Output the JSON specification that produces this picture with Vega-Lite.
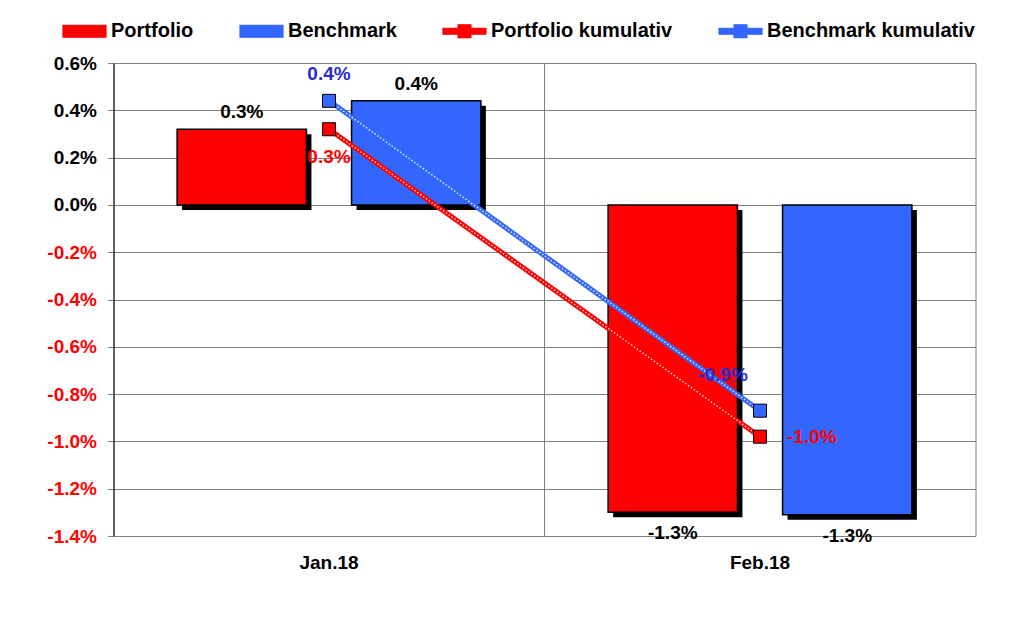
{
  "$schema": "https://vega.github.io/schema/vega-lite/v6.json",
  "width": 862,
  "height": 473,
  "autosize": {"type": "none"},
  "padding": {"left": 113.5, "top": 63, "right": 48.5, "bottom": 85},
  "background": "white",
  "config": {
    "font": "Liberation Sans",
    "locale": {"number": {"decimal": ".", "thousands": ",", "grouping": [3], "currency": ["$", ""], "minus": "-"}},
    "view": {"stroke": "#808080", "strokeWidth": 1},
    "legend": {
      "orient": "none",
      "legendX": -51.5,
      "legendY": -54.5,
      "direction": "horizontal",
      "padding": 0,
      "labelFont": "Liberation Sans",
      "labelFontSize": 20,
      "labelFontWeight": "bold",
      "labelColor": "black",
      "labelLimit": 400,
      "labelOffset": 4,
      "symbolSize": 1849,
      "symbolStrokeColor": "black",
      "symbolStrokeWidth": 1.2,
      "symbolOpacity": 1,
      "columnPadding": 43
    }
  },
  "resolve": {"scale": {"xOffset": "independent"}},
  "datasets": {
    "bars": [
      {"month": "Jan.18", "series": "Portfolio", "value": 0.0032},
      {"month": "Jan.18", "series": "Benchmark", "value": 0.0044},
      {"month": "Feb.18", "series": "Portfolio", "value": -0.0130},
      {"month": "Feb.18", "series": "Benchmark", "value": -0.0131}
    ],
    "cum": [
      {"month": "Jan.18", "series": "Portfolio kumulativ", "value": 0.0032},
      {"month": "Feb.18", "series": "Portfolio kumulativ", "value": -0.0098},
      {"month": "Jan.18", "series": "Benchmark kumulativ", "value": 0.0044},
      {"month": "Feb.18", "series": "Benchmark kumulativ", "value": -0.0087}
    ],
    "sep": [{"month": "Feb.18"}]
  },
  "layer": [
    {
      "data": {"name": "cum"},
      "mark": {"type": "point", "filled": true, "opacity": 0, "stroke": "black", "strokeWidth": 1.2},
      "encoding": {
        "x": {
          "field": "month", "type": "nominal",
          "sort": ["Jan.18", "Feb.18"],
          "scale": {"domain": ["Jan.18", "Feb.18"], "paddingInner": 0, "paddingOuter": 0},
          "axis": {
            "title": null, "domain": false, "ticks": false, "grid": false,
            "labelAngle": 0, "labelFont": "Liberation Sans", "labelFontSize": 19,
            "labelFontWeight": "bold", "labelColor": "black", "labelPadding": 17
          }
        },
        "y": {
          "field": "value", "type": "quantitative",
          "scale": {"domain": [-0.014, 0.006], "nice": false, "zero": false},
          "axis": {
            "title": null,
            "values": [-0.014, -0.012, -0.01, -0.008, -0.006, -0.004, -0.002, 0, 0.002, 0.004, 0.006],
            "format": ".1%",
            "labelFont": "Liberation Sans", "labelFontSize": 19, "labelFontWeight": "bold",
            "labelColor": {"condition": {"test": "datum.value < 0", "value": "#ff0000"}, "value": "black"},
            "tickColor": "#808080", "tickSize": 6, "labelPadding": 11,
            "domainColor": "black", "domainWidth": 1,
            "grid": true, "gridColor": "#808080", "gridWidth": 1
          }
        },
        "color": {
          "field": "series", "type": "nominal",
          "scale": {"domain": ["Portfolio", "Benchmark", "Portfolio kumulativ", "Benchmark kumulativ"], "range": ["#ff0000", "#3366ff", "#ff0000", "#3366ff"]},
          "legend": {"title": null, "encode": {"symbols": {"update": {"stroke": {"value": "black"}, "strokeWidth": {"value": 1.2}, "strokeOpacity": {"value": 1}}}}}
        },
        "shape": {
          "field": "series", "type": "nominal",
          "scale": {
            "domain": ["Portfolio", "Benchmark", "Portfolio kumulativ", "Benchmark kumulativ"],
            "range": [
              "M-1,-0.28H1V0.28H-1Z",
              "M-1,-0.28H1V0.28H-1Z",
              "M-1,-0.14H-0.3V-0.3H0.3V-0.14H1V0.14H0.3V0.3H-0.3V0.14H-1Z",
              "M-1,-0.14H-0.3V-0.3H0.3V-0.14H1V0.14H0.3V0.3H-0.3V0.14H-1Z"
            ]
          },
          "legend": {"title": null, "encode": {"symbols": {"update": {"stroke": {"value": "black"}, "strokeWidth": {"value": 1.2}, "strokeOpacity": {"value": 1}}}}}
        }
      }
    },
    {
      "data": {"name": "sep"},
      "mark": {"type": "rule", "color": "#808080", "strokeWidth": 1},
      "encoding": {
        "x": {"field": "month", "type": "nominal", "bandPosition": 0, "sort": ["Jan.18", "Feb.18"]}
      }
    },
    {
      "data": {"name": "bars"},
      "mark": {"type": "bar", "color": "black", "yOffset": 5, "y2Offset": 5},
      "encoding": {
        "x": {"field": "month", "type": "nominal", "sort": ["Jan.18", "Feb.18"]},
        "xOffset": {"field": "series", "type": "nominal", "scale": {"type": "band", "domain": ["Portfolio", "Benchmark"], "paddingInner": 0.2586, "paddingOuter": 0.3647, "align": 0.5393}},
        "y": {"field": "value", "type": "quantitative"}
      }
    },
    {
      "data": {"name": "bars"},
      "mark": {"type": "bar", "stroke": "black", "strokeWidth": 1.5},
      "encoding": {
        "x": {"field": "month", "type": "nominal", "sort": ["Jan.18", "Feb.18"]},
        "xOffset": {"field": "series", "type": "nominal", "scale": {"type": "band", "domain": ["Portfolio", "Benchmark"], "paddingInner": 0.2586, "paddingOuter": 0.3647}},
        "y": {"field": "value", "type": "quantitative"},
        "color": {"field": "series", "type": "nominal", "legend": {"title": null}}
      }
    },
    {
      "mark": {"type": "rule", "color": "black", "strokeWidth": 3},
      "encoding": {"y": {"datum": 0}}
    },
    {
      "data": {"name": "cum"},
      "mark": {"type": "line", "strokeWidth": 5},
      "encoding": {
        "x": {"field": "month", "type": "nominal", "sort": ["Jan.18", "Feb.18"]},
        "y": {"field": "value", "type": "quantitative"},
        "color": {"field": "series", "type": "nominal", "legend": {"title": null}}
      }
    },
    {
      "data": {"name": "cum"},
      "mark": {"type": "line", "strokeWidth": 1.4, "color": "white", "strokeDash": [1.5, 2], "opacity": 0.9},
      "encoding": {
        "x": {"field": "month", "type": "nominal", "sort": ["Jan.18", "Feb.18"]},
        "y": {"field": "value", "type": "quantitative"},
        "detail": {"field": "series", "type": "nominal"}
      }
    },
    {
      "data": {"name": "cum"},
      "mark": {"type": "point", "shape": "square", "filled": true, "size": 170, "stroke": "black", "strokeWidth": 1, "opacity": 1},
      "encoding": {
        "x": {"field": "month", "type": "nominal", "sort": ["Jan.18", "Feb.18"]},
        "y": {"field": "value", "type": "quantitative"},
        "color": {"field": "series", "type": "nominal", "legend": {"title": null}}
      }
    },
    {
      "data": {"name": "bars"},
      "transform": [{"filter": "datum.value >= 0"}],
      "mark": {"type": "text", "baseline": "bottom", "dy": -7, "fontSize": 19, "fontWeight": "bold", "color": "black", "font": "Liberation Sans"},
      "encoding": {
        "x": {"field": "month", "type": "nominal", "sort": ["Jan.18", "Feb.18"]},
        "xOffset": {"field": "series", "type": "nominal", "scale": {"type": "band", "domain": ["Portfolio", "Benchmark"], "paddingInner": 0.2586, "paddingOuter": 0.3647}},
        "y": {"field": "value", "type": "quantitative"},
        "text": {"field": "value", "type": "quantitative", "format": ".1%"}
      }
    },
    {
      "data": {"name": "bars"},
      "transform": [{"filter": "datum.value < 0"}],
      "mark": {"type": "text", "baseline": "top", "dy": 12, "fontSize": 19, "fontWeight": "bold", "color": "black", "font": "Liberation Sans"},
      "encoding": {
        "x": {"field": "month", "type": "nominal", "sort": ["Jan.18", "Feb.18"]},
        "xOffset": {"field": "series", "type": "nominal", "scale": {"type": "band", "domain": ["Portfolio", "Benchmark"], "paddingInner": 0.2586, "paddingOuter": 0.3647}},
        "y": {"field": "value", "type": "quantitative"},
        "text": {"field": "value", "type": "quantitative", "format": ".1%"}
      }
    },
    {
      "data": {"name": "cum"},
      "transform": [{"filter": "datum.series == 'Portfolio kumulativ' && datum.month == 'Jan.18'"}],
      "mark": {"type": "text", "baseline": "middle", "dy": 28, "fontSize": 19, "fontWeight": "bold", "color": "#ff0000", "font": "Liberation Sans"},
      "encoding": {
        "x": {"field": "month", "type": "nominal", "sort": ["Jan.18", "Feb.18"]},
        "y": {"field": "value", "type": "quantitative"},
        "text": {"field": "value", "type": "quantitative", "format": ".1%"}
      }
    },
    {
      "data": {"name": "cum"},
      "transform": [{"filter": "datum.series == 'Portfolio kumulativ' && datum.month == 'Feb.18'"}],
      "mark": {"type": "text", "baseline": "middle", "align": "left", "dx": 27, "fontSize": 19, "fontWeight": "bold", "color": "#ff0000", "font": "Liberation Sans"},
      "encoding": {
        "x": {"field": "month", "type": "nominal", "sort": ["Jan.18", "Feb.18"]},
        "y": {"field": "value", "type": "quantitative"},
        "text": {"field": "value", "type": "quantitative", "format": ".1%"}
      }
    },
    {
      "data": {"name": "cum"},
      "transform": [{"filter": "datum.series == 'Benchmark kumulativ' && datum.month == 'Jan.18'"}],
      "mark": {"type": "text", "baseline": "middle", "dy": -27, "fontSize": 19, "fontWeight": "bold", "color": "#2a2ad6", "font": "Liberation Sans"},
      "encoding": {
        "x": {"field": "month", "type": "nominal", "sort": ["Jan.18", "Feb.18"]},
        "y": {"field": "value", "type": "quantitative"},
        "text": {"field": "value", "type": "quantitative", "format": ".1%"}
      }
    },
    {
      "data": {"name": "cum"},
      "transform": [{"filter": "datum.series == 'Benchmark kumulativ' && datum.month == 'Feb.18'"}],
      "mark": {"type": "text", "baseline": "middle", "dx": -37, "dy": -36, "fontSize": 19, "fontWeight": "bold", "color": "#2a2ad6", "font": "Liberation Sans"},
      "encoding": {
        "x": {"field": "month", "type": "nominal", "sort": ["Jan.18", "Feb.18"]},
        "y": {"field": "value", "type": "quantitative"},
        "text": {"field": "value", "type": "quantitative", "format": ".1%"}
      }
    }
  ]
}
